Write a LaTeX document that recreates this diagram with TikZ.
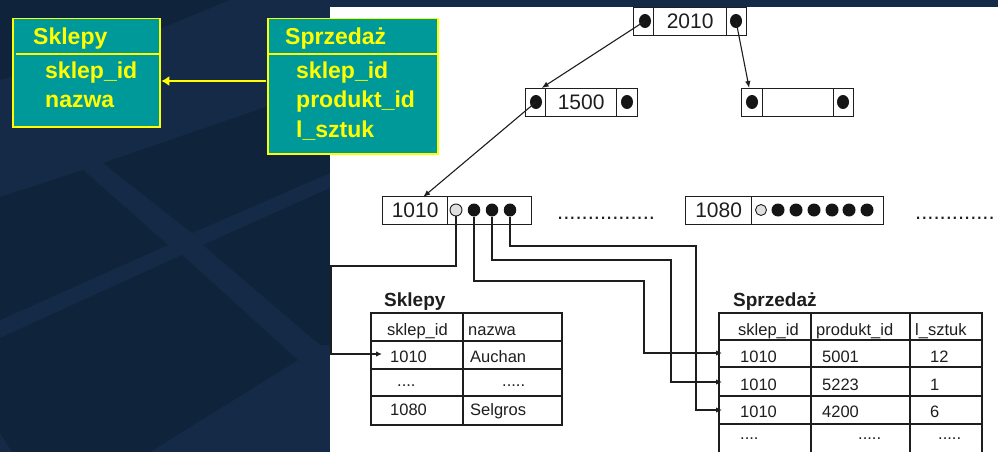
\documentclass[tikz,border=0pt]{standalone}
\usepackage{fontspec}
\setmainfont{Liberation Sans}
\usetikzlibrary{arrows.meta,shapes.geometric}
\definecolor{navyd}{HTML}{0F233B}
\definecolor{navyl}{HTML}{142A47}
\definecolor{tealbox}{HTML}{009999}
\definecolor{ylw}{HTML}{FFFF00}
\definecolor{ink}{HTML}{1E1E1E}
\definecolor{hollow}{HTML}{E0E0E0}
\begin{document}
\begin{tikzpicture}[x=1pt,y=-1pt,
  ybox/.style={draw=ylw, line width=1.5pt, fill=tealbox, inner sep=0pt, anchor=north west},
  yline/.style={draw=ylw, line width=1.5pt},
  ylab/.style={text=ylw, font=\fontsize{23}{23}\selectfont\bfseries, anchor=base west, inner sep=0pt},
  cell/.style={draw=ink, line width=1.3pt, fill=white, minimum height=28pt, inner sep=0pt, anchor=north west, font=\fontsize{21}{21}\selectfont, text=ink},
  bdot/.style={ellipse, fill=ink!70!black, draw=none, minimum width=12pt, minimum height=14pt, inner sep=0pt},
  ldot/.style={ellipse, fill=ink!70!black, draw=none, minimum width=12.5pt, minimum height=13pt, inner sep=0pt},
  gdot/.style={circle, fill=hollow, draw=ink, line width=0.9pt, inner sep=0pt},
  tarr/.style={draw=ink, line width=1.1pt, -{Latex[length=7pt,width=5.5pt]}},
  conn/.style={draw=ink, line width=1.25pt, -{Latex[length=6pt,width=5.5pt]}},
  tab/.style={draw=ink, line width=1.3pt},
  tt/.style={font=\fontsize{16.5}{16.5}\selectfont, text=ink, anchor=base west, inner sep=0pt},
  ttitle/.style={font=\fontsize{19}{19}\selectfont\bfseries, text=ink, anchor=base west, inner sep=0pt},
  dots/.style={font=\fontsize{22}{22}\selectfont, text=ink, anchor=base west, inner sep=0pt}
]
\useasboundingbox (0,0) rectangle (998,452);
% background
\fill[navyl] (0,0) rectangle (998,452);
\fill[navyd] (0,197) -- (83,170) -- (168,245) -- (0,320) -- cycle;
\fill[navyd] (103,163) -- (330,85) -- (330,173) -- (192,233) -- cycle;
\fill[navyd] (203,245) -- (330,188) -- (330,345) -- (320,345) -- cycle;
\fill[navyd] (0,338) -- (182,255) -- (298,360) -- (150,452) -- (12,452) -- (0,433) -- cycle;
\fill[navyd] (0,0) -- (230,0) -- (120,45) -- (0,80) -- cycle;
\fill[white] (330,7) rectangle (998,452);

% ER boxes
\node[ybox, minimum width=147pt, minimum height=108pt] (sk) at (12,18) {};
\node[ybox, minimum width=170pt, minimum height=135pt] (sp) at (267,18) {};
\coordinate (divy) at (0,54);
\coordinate (fky) at (0,81);
\draw[yline] ([xshift=4pt]sk.west |- divy) -- (sk.east |- divy);
\draw[yline] (sp.west |- divy) -- (sp.east |- divy);
\node[ylab] (skt) at (33,45) {Sklepy};
\node[ylab] (ska) at (45,78) {sklep\_id};
\node[ylab] (skb) at (45,107) {nazwa};
\node[ylab] (spt) at (285,45) {Sprzedaż};
\node[ylab] (spa) at (296,78) {sklep\_id};
\node[ylab] (spb) at (296,107) {produkt\_id};
\node[ylab] (spc) at (296,137) {l\_sztuk};
\draw[draw=ylw, line width=2pt, -{Latex[length=8pt,width=10pt]}] ([xshift=-0.75pt]sp.west |- fky) -- ([xshift=0.75pt]sk.east |- fky);

% B-tree root
\node[cell, minimum width=20pt] (rl) at (633,7) {};
\node[cell, minimum width=73pt] (rk) at (653,7) {2010};
\node[cell, minimum width=20pt] (rr) at (726,7) {};
\node[bdot] (rlp) at (645,21) {};
\node[bdot] (rrp) at (736,21) {};
% level 2
\node[cell, minimum width=20pt] (al) at (525,88) {};
\node[cell, minimum width=71pt] (ak) at (545,88) {1500};
\node[cell, minimum width=21pt] (ar) at (616,88) {};
\node[bdot] (alp) at (536,102) {};
\node[bdot] (arp) at (627,102) {};
\node[cell, minimum width=21pt] (bl) at (741,88) {};
\node[cell, minimum width=71pt] (bk) at (762,88) {};
\node[cell, minimum width=20pt] (br) at (833,88) {};
\node[bdot] (blp) at (752,102) {};
\node[bdot] (brp) at (843,102) {};
\draw[tarr] (rlp.center) -- ([xshift=6pt]al.north);
\draw[tarr] (rrp.center) -- ([xshift=-3pt]bl.north);

% leaves
\node[cell, minimum width=65pt] (l1k) at (382,196) {1010};
\node[cell, minimum width=84pt] (l1p) at (447,196) {};
\node[gdot, minimum size=12pt] (g1) at (456,210) {};
\node[ldot] (d1) at (474,210) {};
\node[ldot] (d2) at (492,210) {};
\node[ldot] (d3) at (510,210) {};
\node[dots] (dots1) at (557,219) {................};
\node[cell, minimum width=66pt] (l2k) at (685,196) {1080};
\node[cell, minimum width=132pt] (l2p) at (751,196) {};
\node[gdot, minimum size=11pt] (g2) at (761,210) {};
\foreach \i/\x in {1/778,2/796,3/814,4/832,5/849,6/867}
  \node[ldot, minimum width=13pt] (e\i) at (\x,210) {};
\node[dots] (dots2) at (915,219) {.............};

\draw[tarr] (alp.center) -- ([xshift=8pt,yshift=-1pt]l1k.north);

% tables
\node[ttitle] (skl) at (384,306) {Sklepy};
\draw[tab] (371,313) rectangle (562,425);
\draw[tab] (463,313) -- (463,425);
\foreach \y in {341,369,396} \draw[tab] (371,\y) -- (562,\y);
\node[tt] (h11) at (387,335) {sklep\_id};
\node[tt] (h12) at (468,335) {nazwa};
\node[tt] (s11) at (390,362) {1010};
\node[tt] (s12) at (470,362) {Auchan};
\node[tt] (s21) at (397,386) {....};
\node[tt] (s22) at (502,386) {.....};
\node[tt] (s31) at (390,415) {1080};
\node[tt] (s32) at (470,415) {Selgros};

\node[ttitle] (spl) at (733,306) {Sprzedaż};
\draw[tab] (719,452) -- (719,313) -- (982,313) -- (982,452);
\draw[tab] (811,313) -- (811,452);
\draw[tab] (910,313) -- (910,452);
\foreach \y in {340,367,396,424} \draw[tab] (719,\y) -- (982,\y);
\node[tt] (q01) at (738,335) {sklep\_id};
\node[tt] (q02) at (816,335) {produkt\_id};
\node[tt] (q03) at (915,335) {l\_sztuk};
\node[tt] (q11) at (740,362) {1010};
\node[tt] (q12) at (822,362) {5001};
\node[tt] (q13) at (930,362) {12};
\node[tt] (q21) at (740,390) {1010};
\node[tt] (q22) at (822,390) {5223};
\node[tt] (q23) at (930,390) {1};
\node[tt] (q31) at (740,417) {1010};
\node[tt] (q32) at (822,417) {4200};
\node[tt] (q33) at (930,417) {6};
\node[tt] (q41) at (740,439) {....};
\node[tt] (q42) at (858,439) {.....};
\node[tt] (q43) at (938,439) {.....};

% leaf connectors
\coordinate (t0) at (382,354);
\coordinate (t1) at (722,353);
\coordinate (t2) at (722,382);
\coordinate (t3) at (722,410);
\coordinate (j0) at (331,266);
\coordinate (j1) at (644,281);
\coordinate (j2) at (671,260);
\coordinate (j3) at (696,246);
\draw[conn] (g1.south) -- (g1.south |- j0) -- (j0) -- (j0 |- t0) -- (t0);
\draw[conn] (d1.south) -- (d1.south |- j1) -- (j1) -- (j1 |- t1) -- (t1);
\draw[conn] (d2.south) -- (d2.south |- j2) -- (j2) -- (j2 |- t2) -- (t2);
\draw[conn] (d3.south) -- (d3.south |- j3) -- (j3) -- (j3 |- t3) -- (t3);
\end{tikzpicture}
\end{document}
